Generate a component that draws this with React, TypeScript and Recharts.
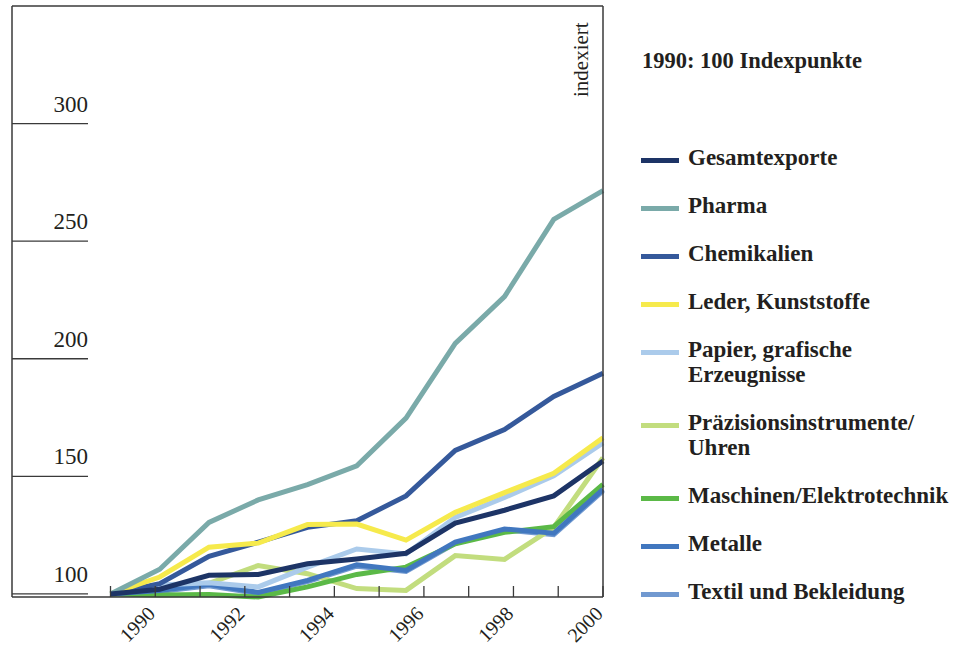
import { LineChart, Line, XAxis, YAxis, Legend } from "recharts";

const years = [1990, 1991, 1992, 1993, 1994, 1995, 1996, 1997, 1998, 1999, 2000];

const gesamtexporte = [100, 102, 107.9, 108.3, 112.8, 114.9, 117.3, 130.1, 135.6, 141.7, 156.5];
const pharma = [100, 110.5, 130.4, 140, 146.5, 154.5, 174.8, 206.5, 226.4, 259.3, 271.5];
const chemikalien = [100, 104.4, 116, 122, 128.3, 131.1, 141.7, 161, 169.9, 184, 193.8];
const leder = [100, 107.2, 119.9, 121.6, 129.5, 129.7, 122.9, 134.7, 143.1, 151.3, 166.4];
const papier = [100, 103.8, 104.8, 103, 111.4, 119.1, 117, 132.5, 141, 150.2, 164.2];
const praezision = [100, 101.5, 104.5, 112.1, 108.6, 102.3, 101.5, 116.3, 114.7, 128.3, 157.9];
const maschinen = [100, 99.5, 99.8, 98.7, 103, 108.3, 111.4, 121.3, 126.2, 128.6, 146.6];
const metalle = [100, 101.5, 104.1, 100.6, 105.8, 112.4, 110, 122, 127.6, 125.8, 144.5];
const textil = [100, 101, 103.5, 100.2, 105.2, 111.8, 109.6, 121.5, 127.2, 125.2, 143.8];

const yTicks = [100, 150, 200, 250, 300];
const xTickLabels = ["", "1990", "", "1992", "", "1994", "", "1996", "", "1998", "", "2000"];

type Series = { key: string; name: string[]; color: string; values: number[] };

// legend order
const series: Series[] = [
  { key: "gesamt", name: ["Gesamtexporte"], color: "#1d3466", values: gesamtexporte },
  { key: "pharma", name: ["Pharma"], color: "#7aaaa9", values: pharma },
  { key: "chemie", name: ["Chemikalien"], color: "#35599b", values: chemikalien },
  { key: "leder", name: ["Leder, Kunststoffe"], color: "#f6ea4c", values: leder },
  { key: "papier", name: ["Papier, grafische", "Erzeugnisse"], color: "#abcbeb", values: papier },
  { key: "praez", name: ["Präzisionsinstrumente/", "Uhren"], color: "#c2dd7e", values: praezision },
  { key: "masch", name: ["Maschinen/Elektrotechnik"], color: "#5bb947", values: maschinen },
  { key: "metall", name: ["Metalle"], color: "#4177bf", values: metalle },
  { key: "textil", name: ["Textil und Bekleidung"], color: "#7199d0", values: textil },
];

// drawing order, bottom first
const drawOrder = ["textil", "praez", "masch", "metall", "papier", "chemie", "leder", "pharma", "gesamt"];

const data = years.map((year, i) => {
  const row: Record<string, number> = { year };
  series.forEach((s) => {
    row[s.key] = s.values[i];
  });
  return row;
});

// 12 evenly spaced ticks between 1990 and 2000
const xTicks = xTickLabels.map((_, i) => 1990 + (i * 10) / 11);

const FONT = "'Liberation Serif', 'Times New Roman', serif";
const INK = "#231f20";
const FRAME = "#3a3a3a";

const XTick = (props: any) => {
  const { x, y, index } = props;
  const label = xTickLabels[index];
  return (
    <g>
      <line x1={x} y1={y - 11} x2={x} y2={y} stroke={FRAME} strokeWidth={1.3} />
      {label && (
        <text
          x={x + 1}
          y={y + 18}
          textAnchor="end"
          fontFamily={FONT}
          fontSize={20}
          fill={INK}
          transform={`rotate(-45, ${x + 1}, ${y + 18})`}
        >
          {label}
        </text>
      )}
    </g>
  );
};

const YTick = (props: any) => {
  const { x, y, payload } = props;
  return (
    <g>
      <line x1={x} y1={y} x2={x + 76} y2={y} stroke={FRAME} strokeWidth={1.3} />
      <text x={x + 76} y={y - 12} textAnchor="end" fontFamily={FONT} fontSize={23} fill={INK}>
        {payload.value}
      </text>
    </g>
  );
};

const IndexLabel = (props: any) => {
  const { viewBox } = props;
  const tx = viewBox.x - 15;
  const ty = viewBox.y + 91;
  return (
    <text
      x={tx}
      y={ty}
      fontFamily={FONT}
      fontSize={21}
      fill={INK}
      transform={`rotate(-90, ${tx}, ${ty})`}
    >
      indexiert
    </text>
  );
};

const renderLegend = () => (
  <div style={{ fontFamily: FONT, color: INK, fontWeight: "bold" }}>
    <div style={{ fontSize: 22.5, lineHeight: "25px", marginLeft: 1, marginBottom: 72 }}>
      1990: 100 Indexpunkte
    </div>
    {series.map((s) => (
      <div key={s.key} style={{ display: "flex", marginBottom: 23 }}>
        <div
          style={{
            width: 38,
            height: 5,
            marginTop: 13,
            marginRight: 9,
            background: s.color,
            flexShrink: 0,
          }}
        />
        <div style={{ fontSize: 23, lineHeight: "25px", whiteSpace: "nowrap" }}>
          {s.name.map((n) => (
            <div key={n}>{n}</div>
          ))}
        </div>
      </div>
    ))}
  </div>
);

export default function App() {
  return (
    <div style={{ position: "absolute", left: 0, top: 0, width: 971, height: 647, background: "#fff" }}>
      <LineChart
        width={971}
        height={647}
        data={data}
        margin={{ top: 5, right: 367, bottom: 49, left: 11 }}
      >
        <XAxis
          dataKey="year"
          type="number"
          domain={[1988, 2000]}
          ticks={xTicks}
          interval={0}
          allowDecimals
          height={1}
          tickSize={0}
          tickMargin={0}
          axisLine={{ stroke: FRAME, strokeWidth: 1.5 }}
          tickLine={false}
          tick={<XTick />}
        />
        <XAxis
          xAxisId="top"
          orientation="top"
          dataKey="year"
          type="number"
          domain={[1988, 2000]}
          height={1}
          tick={false}
          tickLine={false}
          axisLine={{ stroke: FRAME, strokeWidth: 1.5 }}
        />
        <YAxis
          type="number"
          domain={[100, 350]}
          ticks={yTicks}
          interval={0}
          width={1}
          tickSize={0}
          tickMargin={0}
          axisLine={{ stroke: FRAME, strokeWidth: 1.5 }}
          tickLine={false}
          tick={<YTick />}
        />
        <YAxis
          yAxisId="right"
          orientation="right"
          type="number"
          domain={[100, 350]}
          width={1}
          tick={false}
          tickLine={false}
          axisLine={{ stroke: FRAME, strokeWidth: 1.5 }}
          label={<IndexLabel />}
        />
        {drawOrder.map((k) => {
          const s = series.find((d) => d.key === k)!;
          return (
            <Line
              key={s.key}
              dataKey={s.key}
              type="linear"
              stroke={s.color}
              strokeWidth={5}
              dot={false}
              activeDot={false}
              isAnimationActive={false}
            />
          );
        })}
        <Legend
          layout="horizontal"
          verticalAlign="middle"
          align="center"
          content={renderLegend}
          wrapperStyle={{ left: 641, top: 48, width: 330, height: 580 }}
        />
      </LineChart>
    </div>
  );
}
